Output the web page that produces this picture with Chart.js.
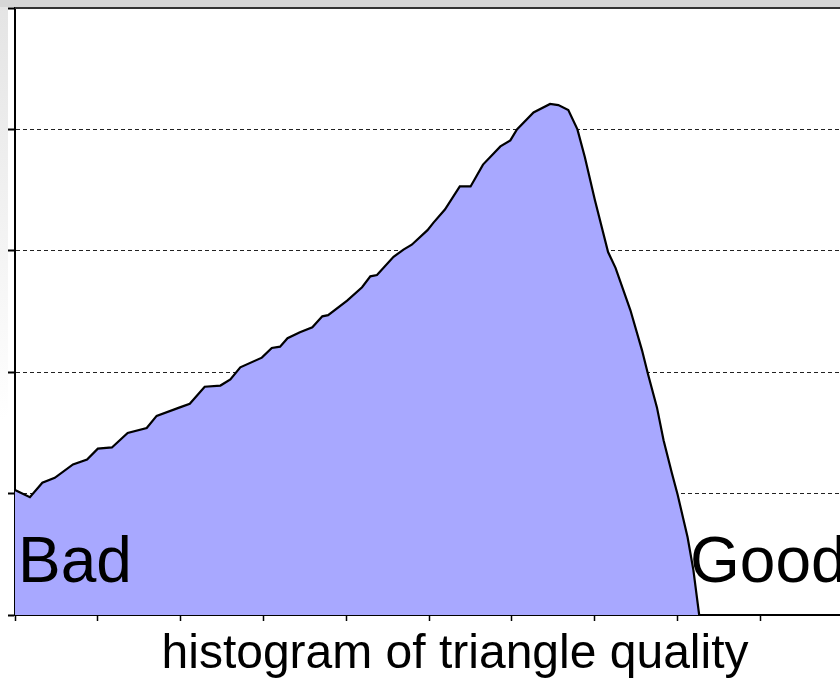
<!DOCTYPE html>
<html>
<head>
<meta charset="utf-8">
<script src="https://cdn.jsdelivr.net/npm/chart.js@4/dist/chart.umd.min.js"></script>
<style>
  html, body { margin: 0; padding: 0; overflow: hidden; background: #fff; }
  canvas { display: block; }
</style>
</head>
<body>
<canvas id="histograma" width="840" height="680"></canvas>
<script>
// quality bins (x) and relative triangle counts (y)
const quality = [0.00, 0.18, 0.33, 0.48, 0.70, 0.87, 1.00, 1.17, 1.36, 1.59,
  1.71, 1.99, 2.11, 2.29, 2.48, 2.60, 2.72, 2.98, 3.10, 3.20,
  3.29, 3.44, 3.59, 3.71, 3.78, 4.01, 4.19, 4.29, 4.37, 4.57,
  4.69, 4.79, 4.98, 5.05, 5.19, 5.37, 5.50, 5.65, 5.86, 5.98,
  6.06, 6.26, 6.46, 6.56, 6.68, 6.79, 6.88, 7.00, 7.16, 7.25,
  7.43, 7.57, 7.64, 7.75, 7.83, 7.93, 8.00, 8.12, 8.19, 8.26];
const counts = [1.03, 0.97, 1.09, 1.13, 1.24, 1.28, 1.37, 1.38, 1.50, 1.54,
  1.64, 1.71, 1.74, 1.88, 1.89, 1.94, 2.04, 2.12, 2.20, 2.21,
  2.28, 2.33, 2.37, 2.46, 2.47, 2.59, 2.70, 2.79, 2.80, 2.95,
  3.01, 3.05, 3.17, 3.23, 3.34, 3.53, 3.53, 3.71, 3.86, 3.91,
  4.00, 4.14, 4.21, 4.20, 4.16, 4.00, 3.77, 3.42, 2.99, 2.86,
  2.51, 2.18, 1.99, 1.71, 1.44, 1.17, 0.99, 0.64, 0.37, 0.00];
const yMax = 5;
const xMax = 9.96;
const axisTitle = 'histogram of triangle quality';
const leftLabel = 'Bad';
const rightLabel = 'Good';

const fuente = '"Liberation Sans", Arial, sans-serif';

const fondo = {
  id: 'fondo',
  beforeDraw(chart) {
    const c = chart.ctx;
    c.save();
    c.fillStyle = '#fff';
    c.fillRect(0, 0, chart.width, chart.height);
    // faint grey band along the top and left edge
    c.fillStyle = '#d6d6d6';
    c.fillRect(0, 0, chart.width, 7);
    const g = c.createLinearGradient(0, 0, 0, 420);
    g.addColorStop(0, '#e4e4e4');
    g.addColorStop(1, '#ffffff');
    c.fillStyle = g;
    c.fillRect(0, 7, 8, 413);
    c.restore();
  }
};

const textos = {
  id: 'textos',
  afterDraw(chart) {
    const c = chart.ctx;
    const a = chart.chartArea;
    c.save();
    // top frame line
    c.strokeStyle = '#333';
    c.lineWidth = 2;
    c.beginPath();
    c.moveTo(a.left, a.top);
    c.lineTo(chart.width, a.top);
    c.stroke();

    c.fillStyle = '#000';
    c.textBaseline = 'alphabetic';
    c.font = '64px ' + fuente;
    c.textAlign = 'left';
    c.fillText(leftLabel, a.left + 3, a.bottom - 33);
    c.fillText(rightLabel, 690, a.bottom - 33);

    c.font = '48px ' + fuente;
    c.textAlign = 'center';
    c.fillText(axisTitle, 455, a.bottom + 53);
    c.restore();
  }
};

const ctx = document.getElementById('histograma').getContext('2d');
new Chart(ctx, {
  type: 'line',
  data: {
    datasets: [{
      data: quality.map((q, i) => ({ x: q, y: counts[i] })),
      borderColor: '#000',
      borderWidth: 2.2,
      backgroundColor: '#a8a8ff',
      fill: 'origin',
      pointRadius: 0,
      tension: 0
    }]
  },
  options: {
    responsive: false,
    animation: false,
    layout: { padding: { left: 8, top: 8, right: 0, bottom: 59 } },
    plugins: { legend: { display: false }, tooltip: { enabled: false } },
    scales: {
      x: {
        type: 'linear',
        min: 0,
        max: xMax,
        ticks: { display: false, stepSize: 1 },
        grid: {
          drawOnChartArea: false,
          tickLength: 6,
          tickWidth: 1.5,
          tickColor: c => Number.isInteger(c.tick.value) ? '#000' : 'rgba(0,0,0,0)'
        },
        border: { color: '#000', width: 2 }
      },
      y: {
        min: 0,
        max: yMax,
        ticks: { display: false, stepSize: 1 },
        grid: {
          color: c => c.tick.value === yMax ? 'rgba(0,0,0,0)' : '#222',
          lineWidth: 1,
          tickLength: 7,
          tickWidth: 2,
          tickColor: '#000'
        },
        border: { color: '#000', width: 2, dash: [4, 3] }
      }
    }
  },
  plugins: [fondo, textos]
});
</script>
</body>
</html>
